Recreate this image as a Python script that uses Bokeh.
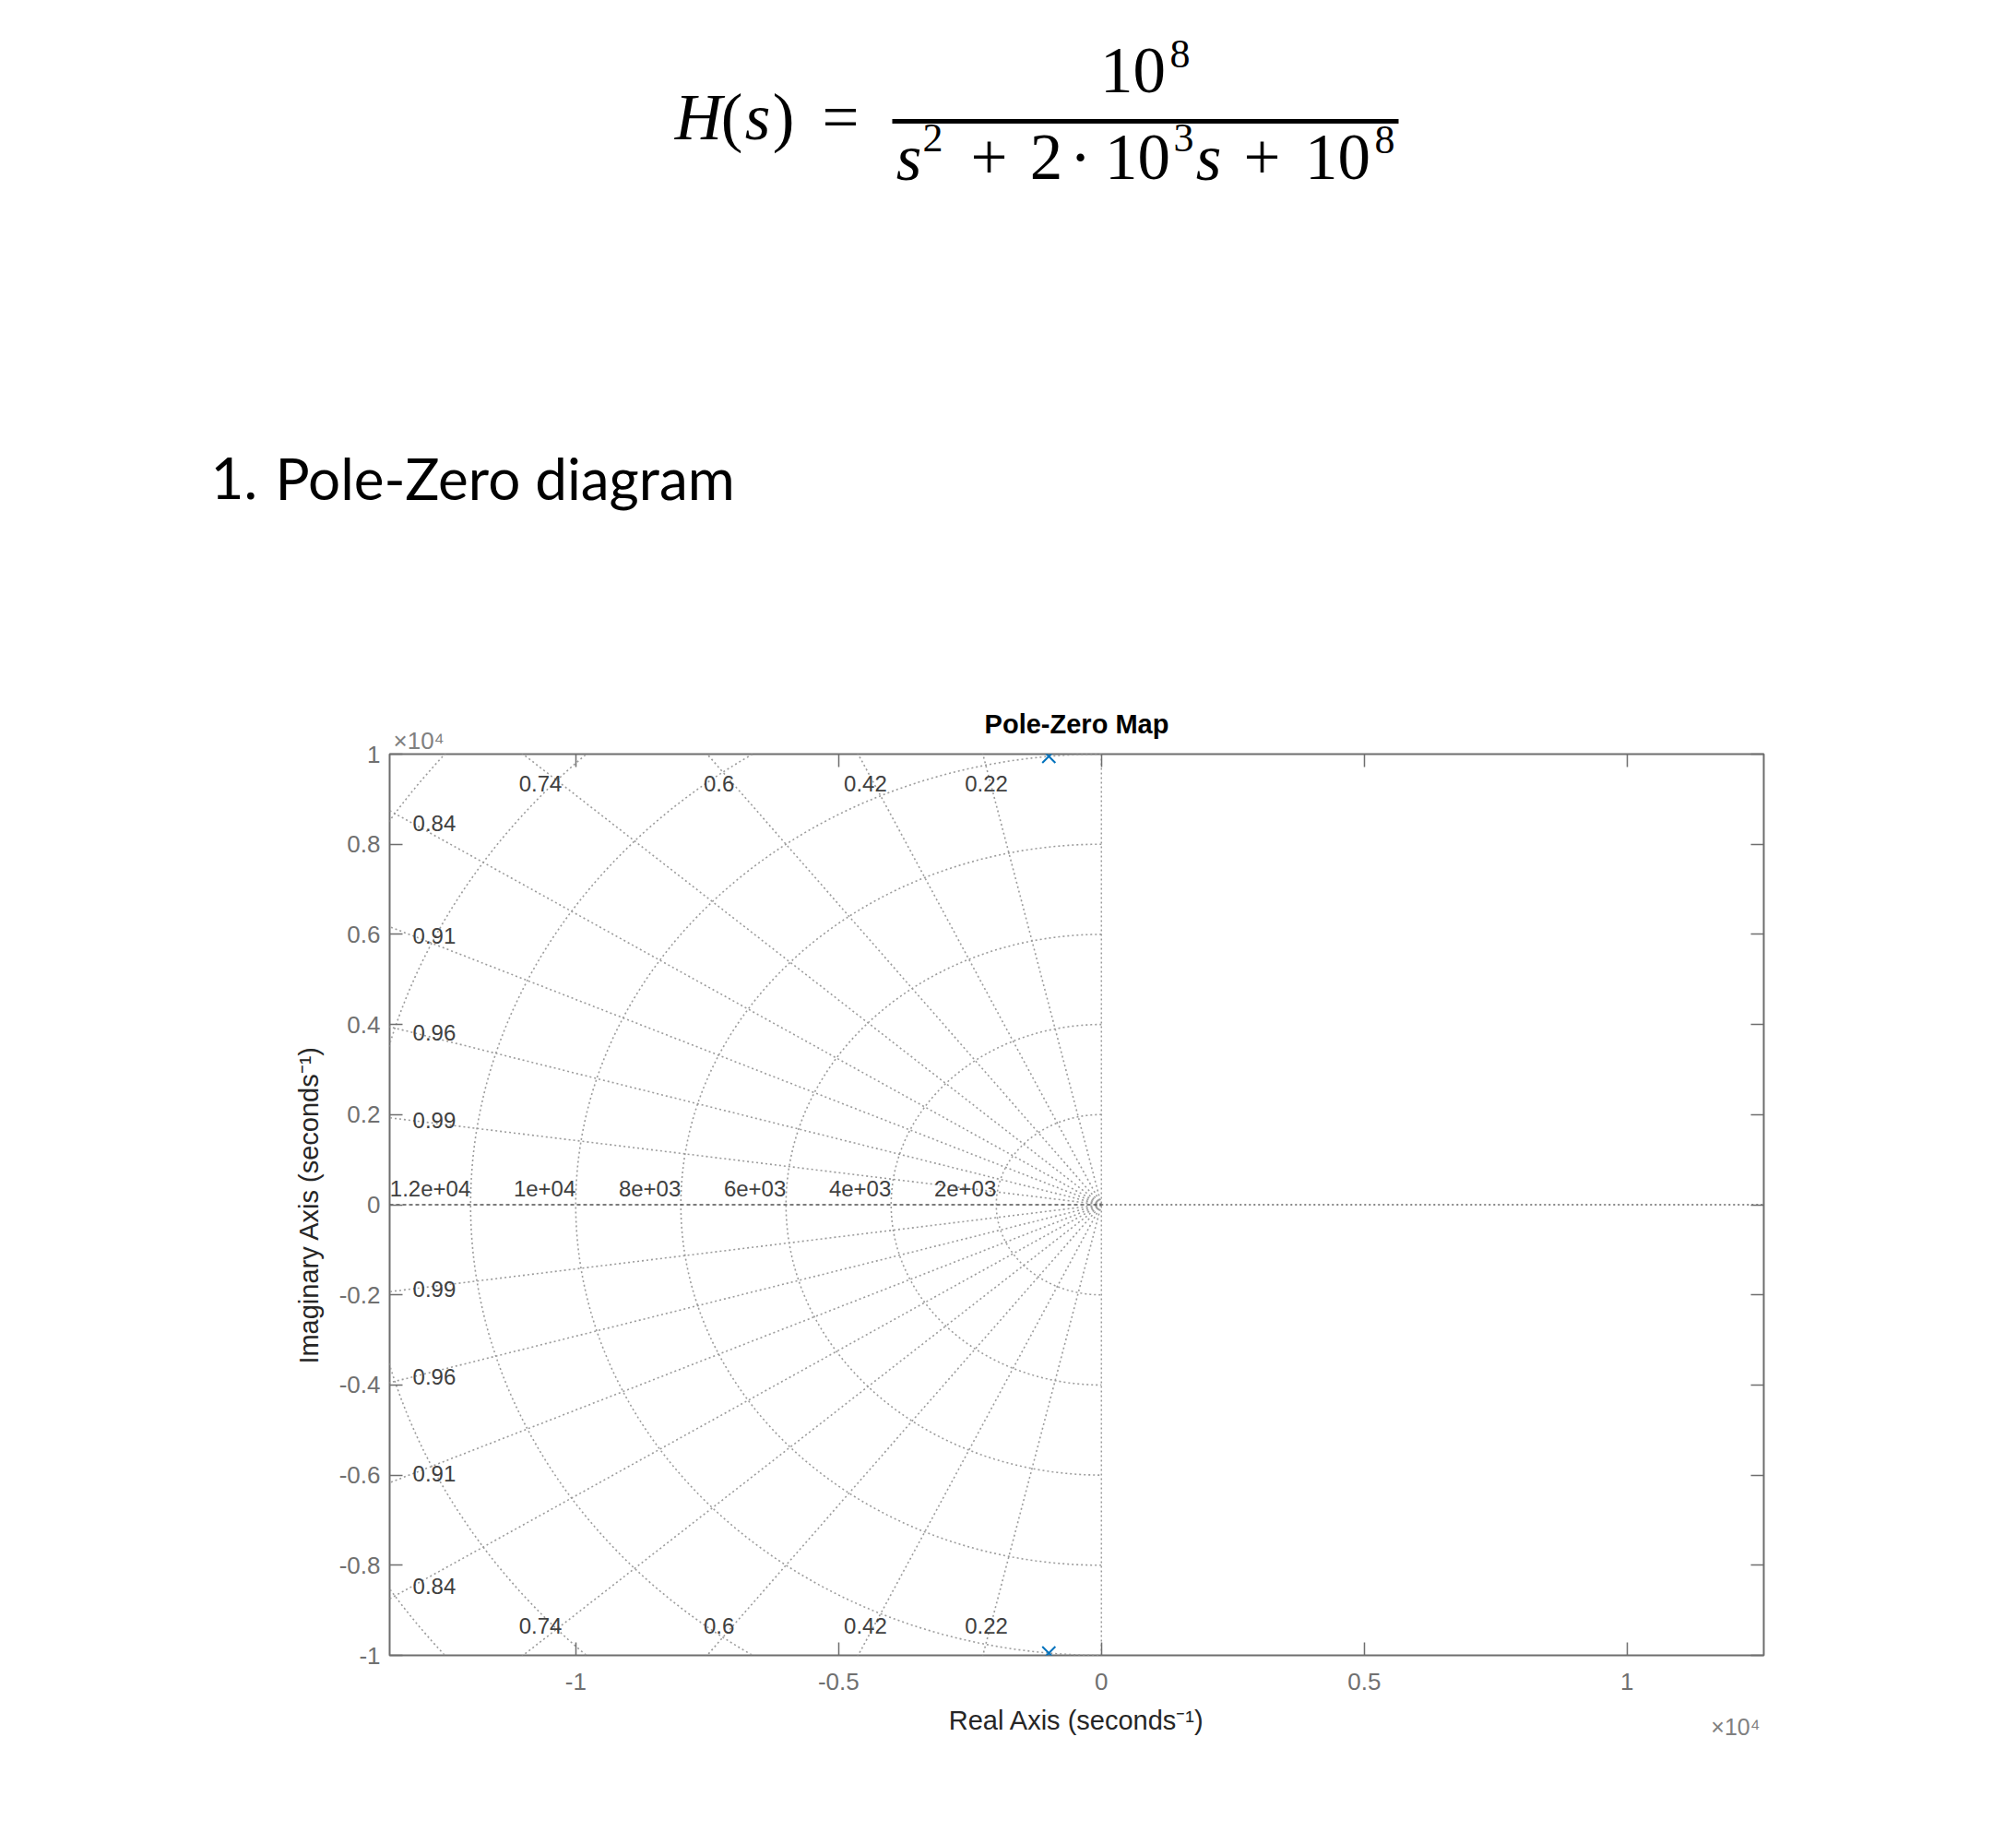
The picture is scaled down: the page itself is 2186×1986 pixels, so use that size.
import numpy as np
from bokeh.plotting import figure
from bokeh.models import Range1d, LinearAxis, FixedTicker, Title, CustomJSTickFormatter
from bokeh.layouts import column
from bokeh.embed import file_html
from bokeh.resources import INLINE
from bokeh.core.properties import value

# ---------------- data ----------------
pole_re = [-1000.0, -1000.0]
pole_im = [9949.87, -9949.87]
damping = [0.99, 0.96, 0.91, 0.84, 0.74, 0.6, 0.42, 0.22]
damping_labels = ["0.99", "0.96", "0.91", "0.84", "0.74", "0.6", "0.42", "0.22"]
wn = [2000, 4000, 6000, 8000, 10000, 12000, 14000, 16000]
wn_labels = ["2e+03", "4e+03", "6e+03", "8e+03", "1e+04", "1.2e+04", "1.4e+04", "1.6e+04"]
x_ticks = [-10000, -5000, 0, 5000, 10000]
x_tick_labels = ["-1", "-0.5", "0", "0.5", "1"]
y_ticks = [-10000, -8000, -6000, -4000, -2000, 0, 2000, 4000, 6000, 8000, 10000]
y_tick_labels = ["-1", "-0.8", "-0.6", "-0.4", "-0.2", "0", "0.2", "0.4", "0.6", "0.8", "1"]
x_lim = (-13540, 12600)
y_lim = (-10000, 10000)

W = 2178
TOTAL_H = 1978
TOP_H = 700
MAIN_H = TOTAL_H - TOP_H

# ---------------- top: formula + heading ----------------
top = figure(width=W, height=TOP_H, x_range=Range1d(0, W), y_range=Range1d(TOP_H, 0),
             toolbar_location=None, output_backend="svg", min_border=0,
             x_axis_type=None, y_axis_type=None)
top.outline_line_color = None
top.background_fill_color = "white"
top.border_fill_color = "white"
if "frame_align" in top.properties():
    top.frame_align = False

SERIF = "Liberation Serif"
K_SERIF = 0.32
BIG, SUP = 71, 44
tokens = [
    # text, x centre, baseline y, size, style
    ("H", 757, 149, BIG, "italic"),
    ("(", 793, 149, BIG, "normal"),
    ("s", 821, 149, BIG, "italic"),
    (")", 849, 149, BIG, "normal"),
    ("=", 911, 149, BIG, "normal"),
    ("10", 1228, 99, BIG, "normal"),
    ("8", 1279, 72, SUP, "normal"),
    ("s", 985, 193, BIG, "italic"),
    ("2", 1011, 163, SUP, "normal"),
    ("+", 1072, 193, BIG, "normal"),
    ("2", 1134, 193, BIG, "normal"),
    ("\u00b7", 1171, 193, BIG, "normal"),
    ("10", 1233, 193, BIG, "normal"),
    ("3", 1283, 163, SUP, "normal"),
    ("s", 1310, 193, BIG, "italic"),
    ("+", 1368, 193, BIG, "normal"),
    ("10", 1450, 193, BIG, "normal"),
    ("8", 1501, 165, SUP, "normal"),
]
for t, x, y, s, st in tokens:
    top.text(x=[x], y=[y - K_SERIF * s], text=[t], text_font=value(SERIF), text_font_size=f"{s}px",
             text_font_style=st, text_align="center", text_baseline="middle", text_color="black")
top.segment(x0=[967], y0=[131], x1=[1516], y1=[131], line_width=5, line_color="black")

K_LATO = 0.44
HEAD_BASE = 545
top.text(x=[228], y=[HEAD_BASE - K_LATO * 62], text=["1."], text_font=value("Lato"), text_font_size="62px",
         text_align="left", text_baseline="middle", text_color="black")
top.text(x=[298], y=[HEAD_BASE - K_LATO * 62], text=["Pole-Zero diagram"], text_font=value("Lato"),
         text_font_size="62px", text_align="left", text_baseline="middle", text_color="black")

# ---------------- main pole-zero map ----------------
p = figure(width=W, height=MAIN_H, x_range=Range1d(*x_lim), y_range=Range1d(*y_lim),
           toolbar_location=None, output_backend="svg",
           min_border_left=422, min_border_right=266, min_border_top=817 - TOP_H,
           min_border_bottom=TOTAL_H - 1794,
           x_axis_type=None, y_axis_type=None, title="Pole-Zero Map")
if "frame_align" in p.properties():
    p.frame_align = False
p.title.align = "center"
p.title.text_font = "Liberation Sans"
p.title.text_font_size = "29px"
p.title.text_font_style = "bold"
p.title.text_color = "black"
p.title.standoff = -30
p.outline_line_color = "#6e6e6e"
p.outline_line_width = 2
p.background_fill_color = "white"
p.border_fill_color = "white"

FONT = "Liberation Sans"


def make_axis(tick_vals, labels, show, label=None):
    fmt = CustomJSTickFormatter(args=dict(tv=tick_vals, tl=labels if show else [""] * len(labels)),
                                code="const i = tv.indexOf(tick); return i >= 0 ? tl[i] : '';")
    ax = LinearAxis(ticker=FixedTicker(ticks=tick_vals), formatter=fmt)
    ax.major_tick_in = 14
    ax.major_tick_out = 0
    ax.minor_tick_in = 0
    ax.minor_tick_out = 0
    ax.major_tick_line_color = "#6e6e6e"
    ax.major_tick_line_width = 1.5
    ax.axis_line_color = None
    ax.major_label_text_font = FONT
    ax.major_label_text_font_size = "26px" if show else "0px"
    ax.major_label_text_color = "#707070"
    if not show:
        ax.major_label_standoff = 0
    if label:
        ax.axis_label = label
        ax.axis_label_text_font = FONT
        ax.axis_label_text_font_size = "29px"
        ax.axis_label_text_font_style = "normal"
        ax.axis_label_text_color = "#262626"
    return ax


xb = make_axis(x_ticks, x_tick_labels, True, "Real Axis (seconds\u207b\u00b9)")
xb.major_label_standoff = 19
xb.axis_label_standoff = 14
yl = make_axis(y_ticks, y_tick_labels, True, "Imaginary Axis (seconds\u207b\u00b9)")
yl.major_label_standoff = 10
yl.axis_label_standoff = 14
p.add_layout(xb, "below")
p.add_layout(yl, "left")
p.add_layout(make_axis(x_ticks, x_tick_labels, False), "above")
p.add_layout(make_axis(y_ticks, y_tick_labels, False), "right")

# exponent markers (x10^4) beside the axes
EXPC = "#808080"
p.add_layout(Title(text="\u00d710\u2074", align="left", offset=4, standoff=0, text_font=FONT,
                   text_font_size="26px", text_font_style="normal", text_color=EXPC), "above")
p.add_layout(Title(text="\u00d710\u2074", align="right", offset=4, standoff=-52, text_font=FONT,
                   text_font_size="25px", text_font_style="normal", text_color=EXPC,
                   vertical_align="top"), "below")

GRID = "#9c9c9c"
DASH = "2 3"
# natural-frequency semicircles (left half plane)
theta = np.linspace(np.pi / 2, 3 * np.pi / 2, 400)
p.multi_line(xs=[list(w * np.cos(theta)) for w in wn], ys=[list(w * np.sin(theta)) for w in wn],
             line_color=GRID, line_width=1.6, line_dash=DASH)

# damping rays from origin
R = 30000.0
rx, ry = [], []
for z in damping:
    s = np.sqrt(1 - z * z)
    rx += [[0, -R * z], [0, -R * z]]
    ry += [[0, R * s], [0, -R * s]]
p.multi_line(xs=rx, ys=ry, line_color=GRID, line_width=1.6, line_dash=DASH)

# axes lines through origin
p.line(x=[x_lim[0], 0], y=[0, 0], line_color="#505050", line_width=1.6, line_dash="4 3")
p.line(x=[0, x_lim[1]], y=[0, 0], line_color="#606060", line_width=1.5, line_dash=DASH)
p.line(x=[0, 0], y=[y_lim[0], y_lim[1]], line_color="#9a9a9a", line_width=1.5, line_dash=DASH)

# damping labels
lx_top, ly_top, lt_top = [], [], []
lx_left, ly_left, lt_left = [], [], []
for z, lab in zip(damping, damping_labels):
    s = np.sqrt(1 - z * z)
    if -z / s * y_lim[1] >= x_lim[0]:
        xx = -z / s * (0.97 * y_lim[1])
        lx_top += [xx, xx]
        ly_top += [0.9345 * y_lim[1], -0.9345 * y_lim[1]]
        lt_top += [lab, lab]
    else:
        xe = 0.9675 * x_lim[0]
        yy = -xe * s / z
        lx_left += [xe, xe]
        ly_left += [yy, -yy]
        lt_left += [lab, lab]
LABC = "#404040"
p.text(x=lx_top, y=ly_top, text=lt_top, text_font=value(FONT), text_font_size="24px",
       text_align="center", text_baseline="middle", text_color=LABC)
p.text(x=lx_left, y=ly_left, text=lt_left, text_font=value(FONT), text_font_size="24px",
       text_align="left", text_baseline="middle", text_color=LABC)

# natural-frequency labels
wx = [-w for w in wn if -w >= x_lim[0]]
wt = [l for w, l in zip(wn, wn_labels) if -w >= x_lim[0]]
p.text(x=wx, y=[350] * len(wx), text=wt, text_font=value(FONT), text_font_size="24px",
       text_align="right", text_baseline="middle", text_color=LABC)

# poles
p.scatter(x=pole_re, y=pole_im, marker="x", size=20, line_color="#0072BD", line_width=2)

layout = column(top, p)
open("out.html", "w").write(file_html(layout, INLINE))
